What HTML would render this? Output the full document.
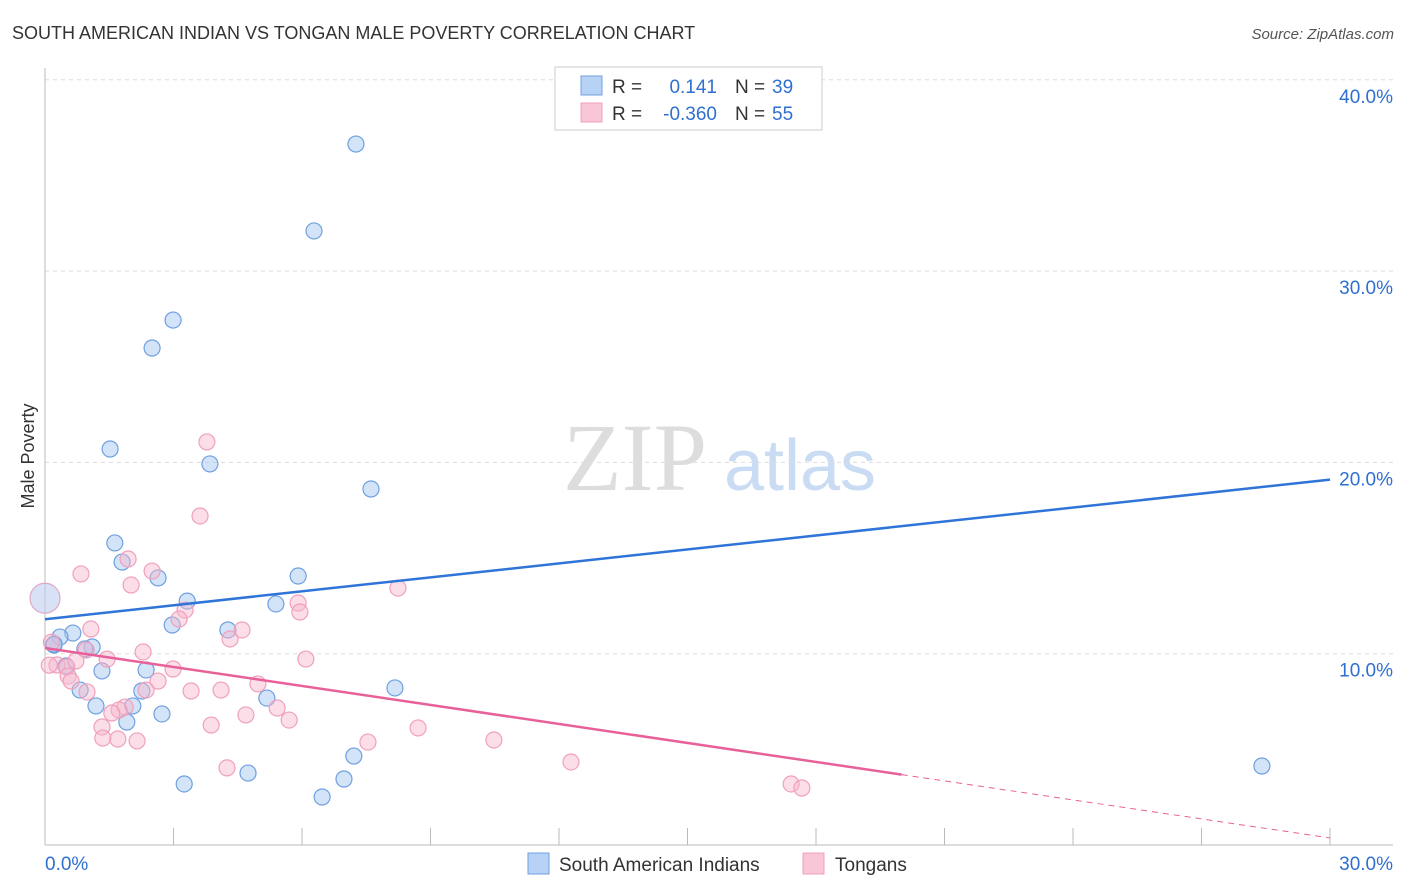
<!DOCTYPE html>
<html><head><meta charset="utf-8">
<style>
body{margin:0;background:#fff;font-family:"Liberation Sans",sans-serif;}
#wrap{position:relative;width:1406px;height:892px;overflow:hidden;}
</style></head>
<body>
<div id="wrap">
<svg id="svg" width="1406" height="892" xmlns="http://www.w3.org/2000/svg">
<text x="12" y="39" font-size="18" fill="#333">SOUTH AMERICAN INDIAN VS TONGAN MALE POVERTY CORRELATION CHART</text>
<text x="1394" y="39" font-size="15" fill="#555" font-style="italic" text-anchor="end">Source: ZipAtlas.com</text>
<text transform="translate(34,456) rotate(-90)" font-size="18" fill="#333" text-anchor="middle">Male Poverty</text>
<g>
<text x="635" y="490" font-size="96" font-family="Liberation Serif" fill="#ddd" text-anchor="middle">ZIP</text>
<text x="800" y="490" font-size="72" fill="#c9dcf3" text-anchor="middle">atlas</text>
</g>
<g id="grid"></g>
<g id="axes"></g>
<g id="pts"></g>
<g id="lines"></g>
<g>
<rect x="555" y="67" width="267" height="63" fill="#fff" stroke="#ccc"/>
<rect x="581" y="76" width="21" height="19" fill="#b8d2f6" stroke="#6fa0e0"/>
<rect x="581" y="103" width="21" height="19" fill="#f8c6d6" stroke="#f0a0bc"/>
<text x="612" y="93" font-size="19" fill="#333">R =</text>
<text x="717" y="93" font-size="19" fill="#2f6fd0" text-anchor="end">0.141</text>
<text x="735" y="93" font-size="19" fill="#333">N =</text>
<text x="772" y="93" font-size="19" fill="#2f6fd0">39</text>
<text x="612" y="120" font-size="19" fill="#333">R =</text>
<text x="717" y="120" font-size="19" fill="#2f6fd0" text-anchor="end">-0.360</text>
<text x="735" y="120" font-size="19" fill="#333">N =</text>
<text x="772" y="120" font-size="19" fill="#2f6fd0">55</text>
</g>
<g>
<rect x="528" y="853" width="21" height="21" fill="#b8d2f6" stroke="#6fa0e0"/>
<text x="559" y="871" font-size="19" fill="#333">South American Indians</text>
<rect x="803" y="853" width="21" height="21" fill="#f8c6d6" stroke="#f0a0bc"/>
<text x="835" y="871" font-size="19" fill="#333">Tongans</text>
</g>
</svg>
</div>
<script>
const yTicks=[10,20,30,40];
const yTickLabels=["10.0%","20.0%","30.0%","40.0%"];
const xTickVals=[0,3,6,9,12,15,18,21,24,27,30];
const blueX=[7.26,6.28,2.99,2.50,1.52,3.85,7.61,1.63,1.80,2.64,5.91,3.32,5.39,2.97,4.27,0.65,0.35,0.21,1.10,0.93,0.49,1.33,2.36,0.82,2.26,1.19,2.05,2.73,1.91,5.18,8.17,7.21,4.74,6.98,3.25,6.47,28.41,0.21];
const blueY=[36.64,32.1,27.44,25.98,20.70,19.92,18.61,15.79,14.79,13.96,14.06,12.75,12.60,11.50,11.24,11.08,10.87,10.45,10.35,10.25,9.36,9.10,9.15,8.10,8.05,7.27,7.27,6.85,6.43,7.68,8.21,4.65,3.76,3.45,3.19,2.51,4.13,10.5];
const pinkX=[3.78,3.62,0.84,1.94,2.50,2.01,3.27,3.13,5.91,5.95,8.24,1.07,4.60,4.32,2.29,0.96,6.09,1.45,0.28,0.51,0.72,2.99,0.54,0.61,0.98,2.36,2.64,4.11,3.41,4.97,5.42,1.87,1.73,1.56,1.33,3.88,4.69,5.70,1.35,1.70,2.15,4.25,7.54,8.71,10.48,12.28,17.42,17.67,0.15,0.1];
const pinkY=[21.07,17.2,14.17,14.95,14.32,13.59,12.28,11.81,12.65,12.18,13.43,11.29,11.24,10.77,10.09,10.19,9.72,9.72,9.41,9.30,9.62,9.20,8.83,8.57,8.00,8.10,8.57,8.10,8.05,8.42,7.16,7.21,7.06,6.90,6.17,6.27,6.80,6.53,5.59,5.54,5.44,4.03,5.38,6.12,5.49,4.34,3.19,2.98,10.6,9.4];
const bigX=[0],bigY=[12.9];
const blueLine=[11.8,19.1];
const pinkLine=[10.3,0.37];
const pinkSolidEnd=20;
const X=v=>45+v*(1285/30), Y=v=>845-v*19.13;
const NS="http://www.w3.org/2000/svg";
function mk(tag,attrs,parent){const e=document.createElementNS(NS,tag);for(const k in attrs)e.setAttribute(k,attrs[k]);document.getElementById(parent).appendChild(e);return e;}
yTicks.forEach((t,i)=>{
 const l=mk('line',{x1:45,x2:1393,y1:Y(t),y2:Y(t),stroke:'#ddd','stroke-dasharray':'4,4'},'grid');
 
 
 const tx=mk('text',{x:1393,y:Y(t)+23,'font-size':19,fill:'#2f6fd0','text-anchor':'end'},'grid');
 tx.textContent=yTickLabels[i];
 
 
});
let a=mk('line',{x1:45,x2:45,y1:68,y2:845,stroke:'#bbb'},'axes');


a=mk('line',{x1:45,x2:1393,y1:845,y2:845,stroke:'#bbb'},'axes');


xTickVals.forEach(v=>{const t=mk('line',{x1:X(v),x2:X(v),y1:828,y2:845,stroke:'#bbb'},'axes');
 
 });
[[0,'0.0%','start',45],[30,'30.0%','end',1393]].forEach(d=>{const t=mk('text',{x:d[3],y:870,'font-size':19,fill:'#2f6fd0','text-anchor':d[2]},'axes');t.textContent=d[1];
 
 });
function dots(xs,ys,r,fill,stroke,name){xs.forEach((x,i)=>{const c=mk('circle',{cx:X(x),cy:Y(ys[i]),r:r,fill:fill,stroke:stroke,'stroke-width':1.2},'pts');
 
 });}
dots(bigX,bigY,15,'rgba(190,205,240,0.6)','#e0a8c8','point-large');
dots(blueX,blueY,8,'rgba(168,200,242,0.5)','#6fa0e0','point-south-american-indian');
dots(pinkX,pinkY,8,'rgba(246,182,204,0.45)','#f0a0bc','point-tongan');
let ln=mk('line',{x1:X(0),y1:Y(blueLine[0]),x2:X(30),y2:Y(blueLine[1]),stroke:'#2f74d8','stroke-width':2.5},'lines');


const py=x=>pinkLine[0]+(pinkLine[1]-pinkLine[0])*x/30;
ln=mk('line',{x1:X(0),y1:Y(py(0)),x2:X(pinkSolidEnd),y2:Y(py(pinkSolidEnd)),stroke:'#e8609a','stroke-width':2.5},'lines');


ln=mk('line',{x1:X(pinkSolidEnd),y1:Y(py(pinkSolidEnd)),x2:X(30),y2:Y(py(30)),stroke:'#e8609a','stroke-width':1,'stroke-dasharray':'6,5'},'lines');


</script>
</body></html>
